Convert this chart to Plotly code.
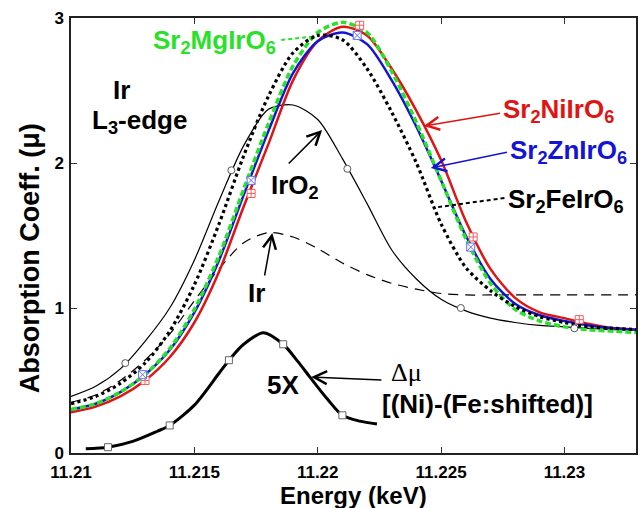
import plotly.graph_objects as go

# ---------------- data ----------------
energy = [11.210, 11.211, 11.212, 11.213, 11.214, 11.215, 11.216, 11.217, 11.218, 11.219,
          11.220, 11.221, 11.222, 11.223, 11.224, 11.225, 11.226, 11.227, 11.228, 11.229,
          11.230, 11.231, 11.232, 11.233]

mu_ni = [0.28, 0.32, 0.39, 0.50, 0.66, 0.90, 1.25, 1.70, 2.13, 2.57,
         2.84, 2.94, 2.88, 2.65, 2.36, 2.02, 1.60, 1.27, 1.07, 0.97,
         0.93, 0.89, 0.86, 0.85]
mu_zn = [0.30, 0.34, 0.42, 0.54, 0.71, 0.97, 1.33, 1.78, 2.22, 2.62,
         2.84, 2.90, 2.82, 2.57, 2.25, 1.88, 1.50, 1.20, 1.03, 0.95,
         0.91, 0.88, 0.86, 0.85]
mu_mg = [0.30, 0.34, 0.42, 0.54, 0.72, 0.99, 1.36, 1.82, 2.27, 2.67,
         2.90, 2.97, 2.90, 2.63, 2.28, 1.88, 1.48, 1.17, 0.99, 0.91,
         0.87, 0.85, 0.84, 0.83]
mu_fe = [0.34, 0.39, 0.48, 0.62, 0.84, 1.16, 1.58, 2.05, 2.46, 2.76,
         2.88, 2.85, 2.65, 2.35, 2.00, 1.58, 1.28, 1.12, 1.01, 0.94,
         0.90, 0.87, 0.86, 0.85]
mu_iro2 = [0.39, 0.46, 0.58, 0.77, 1.00, 1.33, 1.74, 2.12, 2.37, 2.40,
           2.30, 2.03, 1.72, 1.40, 1.20, 1.06, 0.98, 0.93, 0.90, 0.88,
           0.87, 0.86, 0.85, 0.85]
mu_ir = [0.35, 0.40, 0.50, 0.64, 0.82, 1.05, 1.27, 1.45, 1.52, 1.49,
         1.41, 1.31, 1.23, 1.17, 1.13, 1.10, 1.09, 1.09, 1.09, 1.09,
         1.09, 1.09, 1.09, 1.09]

delta_e = [11.2106, 11.2115, 11.2125, 11.2135, 11.2140, 11.2150, 11.2160, 11.2165, 11.2170,
           11.2178, 11.2186, 11.2192, 11.2197, 11.2204, 11.2210, 11.2217, 11.2224]
delta_mu = [0.03, 0.04, 0.08, 0.15, 0.19, 0.33, 0.55, 0.66, 0.75,
            0.83, 0.75, 0.63, 0.52, 0.37, 0.26, 0.22, 0.20]

# sparse open markers drawn on the curves
iro2_mk_e = [11.2122, 11.2165, 11.2212, 11.2258, 11.2304]
iro2_mk_mu = [0.62, 1.95, 1.96, 1.00, 0.86]
ni_mk_e = [11.2130, 11.2173, 11.2217, 11.2263, 11.2306]
ni_mk_mu = [0.50, 1.79, 2.95, 1.49, 0.92]
zn_mk_e = [11.2129, 11.2173, 11.2216, 11.2262]
zn_mk_mu = [0.54, 1.88, 2.88, 1.42]
delta_mk_e = [11.2115, 11.2140, 11.2164, 11.2186, 11.2210]
delta_mk_mu = [0.04, 0.19, 0.64, 0.75, 0.26]

x_ticks = [11.21, 11.215, 11.22, 11.225, 11.23]
x_tick_text = ["11.21", "11.215", "11.22", "11.225", "11.23"]
y_ticks = [0, 1, 2, 3]

RED = "rgb(225,20,20)"
BLUE = "rgb(20,20,215)"
GREEN = "rgb(40,225,40)"
FONT = "Liberation Sans, Arial, sans-serif"

# ---------------- layout geometry ----------------
W, H = 640, 508
L, R, T, B = 71, 638, 18, 453
XMIN, XMAX = 11.21, 11.2329
YMIN, YMAX = 0.0, 3.0


def X(px):
    return XMIN + (px - L) * (XMAX - XMIN) / (R - L)


def Y(py):
    return YMIN + (B - py) * (YMAX - YMIN) / (B - T)


fig = go.Figure()

fig.add_trace(go.Scatter(x=energy, y=mu_ir, mode="lines",
                         line=dict(color="black", width=1.2, dash="10px,7px", shape="spline", smoothing=0.8)))
fig.add_trace(go.Scatter(x=energy, y=mu_iro2, mode="lines",
                         line=dict(color="black", width=1.2, shape="spline", smoothing=0.8)))
fig.add_trace(go.Scatter(x=delta_e, y=delta_mu, mode="lines",
                         line=dict(color="black", width=3, shape="spline", smoothing=0.8)))
fig.add_trace(go.Scatter(x=energy, y=mu_ni, mode="lines",
                         line=dict(color=RED, width=2.5, shape="spline", smoothing=0.8)))
fig.add_trace(go.Scatter(x=energy, y=mu_zn, mode="lines",
                         line=dict(color=BLUE, width=2.5, shape="spline", smoothing=0.8)))
fig.add_trace(go.Scatter(x=energy, y=mu_mg, mode="lines",
                         line=dict(color=GREEN, width=3.5, dash="6px,3px", shape="spline", smoothing=0.8)))
fig.add_trace(go.Scatter(x=energy, y=mu_fe, mode="lines",
                         line=dict(color="black", width=3.2, dash="dot", shape="spline", smoothing=0.8)))

fig.add_trace(go.Scatter(x=iro2_mk_e, y=iro2_mk_mu, mode="markers",
                         marker=dict(symbol="circle", size=7, color="white", line=dict(color="#555", width=1))))
fig.add_trace(go.Scatter(x=ni_mk_e, y=ni_mk_mu, mode="markers",
                         marker=dict(symbol="square-cross", size=8, color="white", line=dict(color="#f06060", width=1))))
fig.add_trace(go.Scatter(x=zn_mk_e, y=zn_mk_mu, mode="markers",
                         marker=dict(symbol="square-x", size=8, color="white", line=dict(color="#6070f0", width=1))))
fig.add_trace(go.Scatter(x=delta_mk_e, y=delta_mk_mu, mode="markers",
                         marker=dict(symbol="square", size=7, color="white", line=dict(color="#666", width=1))))

annotations = []


def label(text, left_px, cy_px, color="black", size=26, family=FONT, bold=True):
    t = "<b>%s</b>" % text if bold else text
    annotations.append(dict(x=X(left_px), y=Y(cy_px), xref="x", yref="y", text=t, showarrow=False,
                            xanchor="left", yanchor="middle",
                            font=dict(family=family, size=size, color=color)))


def arrow(tail, tip, color="black"):
    annotations.append(dict(x=X(tip[0]), y=Y(tip[1]), ax=X(tail[0]), ay=Y(tail[1]),
                            xref="x", yref="y", axref="x", ayref="y", text="",
                            showarrow=True, arrowhead=5, arrowsize=1.7, arrowwidth=1.5,
                            arrowcolor=color))


shapes = []


def dashed_arrow(tail, tip, color="black"):
    # dashed shaft + short solid head
    dx, dy = tip[0] - tail[0], tip[1] - tail[1]
    n = (dx * dx + dy * dy) ** 0.5
    mid = (tip[0] - dx / n * 6, tip[1] - dy / n * 6)
    shapes.append(dict(type="line", xref="x", yref="y", x0=X(tail[0]), y0=Y(tail[1]),
                       x1=X(mid[0]), y1=Y(mid[1]), line=dict(color=color, width=2, dash="4px,3px")))
    arrow(mid, tip, color)


label("Sr<sub>2</sub>MgIrO<sub>6</sub>", 151, 41, GREEN)
dashed_arrow((282, 40), (318, 36), GREEN)
label("Sr<sub>2</sub>NiIrO<sub>6</sub>", 503, 110, RED)
arrow((503, 113), (425, 126), RED)
label("Sr<sub>2</sub>ZnIrO<sub>6</sub>", 510, 151, BLUE)
arrow((510, 152), (432, 168), BLUE)
label("Sr<sub>2</sub>FeIrO<sub>6</sub>", 508, 200, "black")
dashed_arrow((506, 198), (433, 208), "black")
label("Ir", 111, 90)
label("L<sub>3</sub>-edge", 90, 121)
label("IrO<sub>2</sub>", 270, 186)
arrow((288, 165), (323, 130))
label("Ir", 247, 293)
arrow((265, 277), (273, 233))
label("5X", 266, 385)
label("Δμ", 390, 372, family="Liberation Serif, DejaVu Serif, serif", size=26, bold=False)
arrow((384, 380), (312, 377))
label("[(Ni)-(Fe:shifted)]", 381, 404)

# axis titles
annotations.append(dict(x=0.5, y=-(495 - B) / (B - T), xref="paper", yref="paper", text="<b>Energy (keV)</b>",
                        showarrow=False, xanchor="center", yanchor="middle",
                        font=dict(family=FONT, size=24, color="black")))
annotations.append(dict(x=(30 - L) / (R - L), y=(B - 258) / (B - T), xref="paper", yref="paper",
                        text="<b>Absorption Coeff. (μ)</b>", textangle=-90,
                        showarrow=False, xanchor="center", yanchor="middle",
                        font=dict(family=FONT, size=27, color="black")))

fig.update_layout(
    width=W, height=H,
    margin=dict(l=L, r=W - R, t=T, b=H - B),
    paper_bgcolor="white", plot_bgcolor="white",
    showlegend=False,
    annotations=annotations,
    shapes=shapes,
    font=dict(family=FONT, color="black"),
)
fig.update_xaxes(range=[XMIN, XMAX], tickvals=x_ticks, ticktext=["<b>%s</b>" % t for t in x_tick_text],
                 ticks="inside", ticklen=6, tickwidth=1, tickcolor="#333",
                 showline=True, linecolor="#222", linewidth=1.5, mirror="ticks",
                 showgrid=False, zeroline=False, tickfont=dict(size=17, family=FONT),
                 ticklabelstandoff=3)
fig.update_yaxes(range=[YMIN, YMAX], tickvals=y_ticks, ticktext=["<b>%d</b>" % v for v in y_ticks],
                 ticks="inside", ticklen=6, tickwidth=1, tickcolor="#333",
                 showline=True, linecolor="#222", linewidth=1.5, mirror="ticks",
                 showgrid=False, zeroline=False, tickfont=dict(size=17, family=FONT),
                 ticklabelstandoff=2)

fig.write_html("out.html", config={"displayModeBar": False},
               post_script="document.body.style.margin='0';document.body.style.overflow='hidden';")
